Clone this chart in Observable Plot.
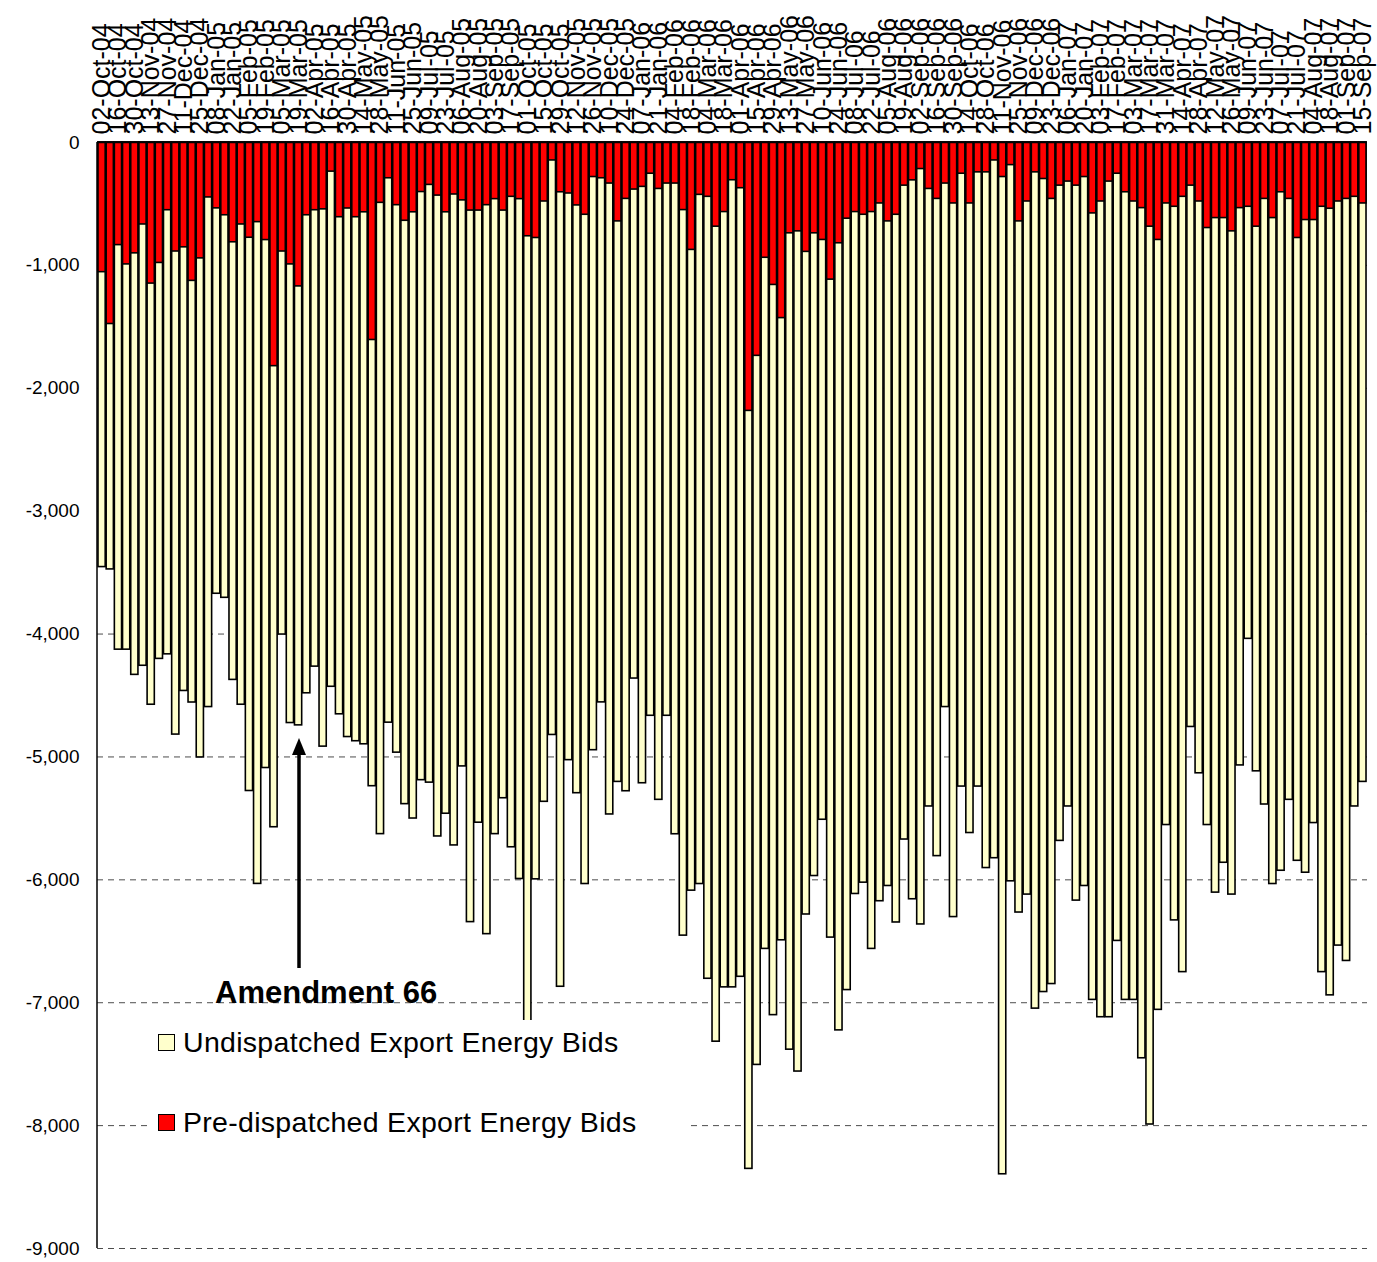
<!DOCTYPE html>
<html><head><meta charset="utf-8">
<script src="https://cdn.jsdelivr.net/npm/d3@7"></script>
<script src="https://cdn.jsdelivr.net/npm/@observablehq/plot@0.6"></script>
<style>
body{margin:0;background:#fff;font-family:Arial,"Liberation Sans",sans-serif;}
#wrap{position:relative;width:1377px;height:1262px;}
.leg{position:absolute;font-size:28.5px;color:#000;white-space:nowrap;letter-spacing:0.3px;}
.sw{display:inline-block;width:15px;height:15px;border:1.5px solid #000;margin-right:8px;vertical-align:middle;position:relative;top:-2px;}
</style></head><body>
<div id="wrap"></div>
<script>
const startDate = "2004-10-02";
const totalBids = [3455,3474,4127,4127,4332,4258,4575,4202,4165,4818,4463,4557,5004,4594,3672,3705,4373,4575,5277,6033,5090,5572,4004,4724,4743,4482,4265,
4916,4429,4653,4838,4872,4897,5238,5628,4721,4965,5384,5501,5189,5209,5647,5462,5720,5077,6344,5535,6442,5628,5336,5735,5993,7504,
5996,5365,4821,6870,5026,5295,6034,4945,4556,5468,5203,5279,4362,5214,4665,5349,4665,5629,6454,6088,6034,6805,7317,6875,6875,6789,
8352,7506,6562,7101,6492,7382,7560,6282,5969,5511,6470,7225,6897,6115,6023,6562,6174,6050,6347,5672,6158,6363,5403,5807,4594,6303,
5241,5619,5241,5904,5824,8396,6012,6266,6120,7048,6913,6848,5683,5403,6169,6050,6977,7118,7118,6497,6977,6977,7452,7991,7058,
5554,6330,6751,4756,5133,5554,6104,5861,6120,5069,4039,5117,5387,6034,5926,5349,5845,5942,5538,6751,6940,6535,6660,5403,5203];
const preBids = [1055,1477,835,992,902,667,1148,980,551,887,853,1126,943,447,536,592,812,667,775,648,794,1820,887,992,1171,592,551,
544,237,608,537,608,568,1607,491,291,510,637,568,403,345,432,568,423,471,554,554,510,461,554,442,461,763,
777,480,146,405,415,512,588,281,291,334,642,459,383,361,254,378,334,334,550,874,426,442,685,566,307,372,
2184,1736,938,1159,1429,739,723,890,739,793,1116,820,620,566,588,566,496,642,588,351,308,216,378,459,334,496,
254,496,243,243,146,281,184,642,480,243,297,459,351,318,351,281,577,480,318,254,405,480,534,685,793,
496,523,442,351,480,696,615,615,723,534,523,685,459,615,405,459,777,631,631,523,539,480,459,442,496];
const yTicks = [0,-1000,-2000,-3000,-4000,-5000,-6000,-7000,-8000,-9000];
const seriesNames = ["Undispatched Export Energy Bids","Pre-dispatched Export Energy Bids"];
const seriesColors = ["#ffffcc","#ff0000"];
const annotation = "Amendment 66";

const fmtDate = d3.utcFormat("%d-%b-%y");
const weeks = totalBids.map((_, i) => d3.utcDay.offset(new Date(startDate), 7 * i));
const labels = weeks.map(fmtDate);
const rows = labels.map((l, i) => ({week: l, total: -totalBids[i], pre: -preBids[i]}));
const tickLabels = labels.filter((_, i) => i % 2 === 0);
const fmtY = d => d3.format(",")(d).replace("\u2212", "-");

const chart = Plot.plot({
  width: 1377, height: 1262,
  marginLeft: 97, marginRight: 10, marginTop: 142, marginBottom: 14,
  style: {fontFamily: "Arial, 'Liberation Sans', sans-serif", background: "#fff"},
  x: {domain: labels, padding: 0.12, round: false, axis: null},
  y: {domain: [-9000, 0], axis: null},
  marks: [
    Plot.gridY(yTicks.filter(d => d !== 0), {stroke: "#000", strokeOpacity: 0.7, strokeDasharray: "6,5", strokeWidth: 1}),
    Plot.barY(rows, {x: "week", y1: 0, y2: "total", fill: seriesColors[0], stroke: "#000", strokeWidth: 1.6}),
    Plot.barY(rows, {x: "week", y1: 0, y2: "pre", fill: seriesColors[1], stroke: "#000", strokeWidth: 1.6}),
    Plot.axisX({anchor: "top", ticks: tickLabels, tickRotate: -90, tickSize: 0, tickPadding: 8, fontSize: 25, label: null}),
    Plot.axisY({ticks: yTicks, tickFormat: fmtY, tickSize: 0, tickPadding: 18, fontSize: 19, label: null}),
    Plot.ruleY([0], {stroke: "#000", strokeWidth: 1.5})
  ]
});
const wrap = document.getElementById("wrap");
wrap.appendChild(chart);

const ns = "http://www.w3.org/2000/svg";
const ln = document.createElementNS(ns, "line");
ln.setAttribute("x1", 97); ln.setAttribute("x2", 97);
ln.setAttribute("y1", 142); ln.setAttribute("y2", 1248);
ln.setAttribute("stroke", "#000"); ln.setAttribute("stroke-width", 1.5);
chart.appendChild(ln);

const bg = document.createElement("div");
bg.style.cssText = "position:absolute;left:150px;top:1020px;width:540px;height:120px;background:#fff;";
wrap.appendChild(bg);
seriesNames.forEach((n, i) => {
  const d = document.createElement("div");
  d.className = "leg";
  d.style.left = "158px"; d.style.top = (1026 + i * 80) + "px";
  d.innerHTML = `<span class="sw" style="background:${seriesColors[i]}"></span>${n}`;
  wrap.appendChild(d);
});
const a = document.createElement("div");
a.className = "leg";
a.style.cssText += "left:215px;top:975px;font-weight:bold;font-size:31px;letter-spacing:0;";
a.textContent = annotation;
wrap.appendChild(a);
const arr = document.createElementNS(ns, "g");
arr.innerHTML = `<line x1="299" x2="299" y1="968" y2="752" stroke="#000" stroke-width="3.5"/>
<path d="M292,755 L299,738 L306,755 Z" fill="#000"/>`;
chart.appendChild(arr);
</script></body></html>
